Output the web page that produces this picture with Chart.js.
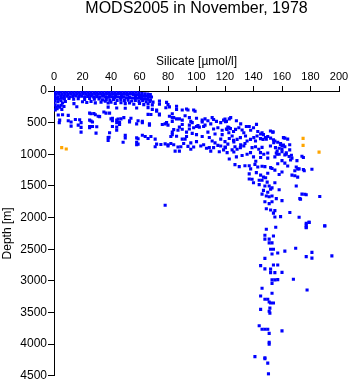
<!DOCTYPE html>
<html><head><meta charset="utf-8">
<script src="https://cdn.jsdelivr.net/npm/chart.js@4.4.1/dist/chart.umd.min.js"></script>
<style>html,body{margin:0;padding:0;background:#fff;overflow:hidden}</style>
</head><body>
<canvas id="c" width="351" height="384"></canvas>
<script>
const chartTitle = "MODS2005 in November, 1978";
const xTitle = "Silicate [µmol/l]";
const yTitle = "Depth [m]";
const xTickValues = [0,20,40,60,80,100,120,140,160,180,200];
const yTickValues = [0,500,1000,1500,2000,2500,3000,3500,4000,4500];

// [silicate, depth]
const blueSurface = [
[0.7,12],[2.8,18],[4.9,10],[7.0,16],[9.1,12],[11.2,20],[13.3,14],[15.4,10],[17.5,18],[19.6,12],[21.7,16],[23.8,10],[25.9,20],[28.0,14],[30.1,18],[32.2,10],[34.3,16],[36.4,12],[38.5,20],[40.6,14],[42.7,10],[44.8,18],[46.9,12],[49.0,16],[51.1,10],[53.2,20],[55.3,14],[57.4,18],[59.5,30],[61.6,40],[63.7,45],[65.8,50],[67.6,55],
[1.2,48],[3.3,42],[5.4,52],[7.5,45],[9.6,55],[11.7,44],[13.8,50],[15.9,46],[18.0,54],[20.1,42],[22.2,50],[24.3,47],[26.4,55],[28.5,44],[30.6,52],[32.7,48],[34.8,56],[36.9,45],[39.0,53],[41.1,49],[43.2,57],[45.3,46],[47.4,54],[49.5,50],[51.6,58],[53.7,48],[55.8,56],[57.9,62],[60.0,70],[62.1,78],[64.2,82],[66.3,88],[68.4,95],
[0.5,85],[2.6,90],[4.7,80],[6.8,88],[8.9,82],[11.0,92],[13.1,85],[15.2,80],[17.3,90],[19.4,84],[21.5,95],[23.6,86],[25.7,80],[27.8,92],[29.9,88],[32.0,96],[34.1,84],[36.2,92],[38.3,98],[40.4,90],[42.5,100],[44.6,94],[46.7,104],[48.8,96],[50.9,106],[53.0,100],[55.1,110],[57.2,104],[59.3,115],[61.4,120],[63.5,125],[65.6,130],[67.7,140],
[1.0,120],[3.1,128],[5.2,115],[7.3,125],[10.5,118],[13.8,130],[17.0,122],[21.5,135],[25.0,118],[28.3,130],[31.6,125],[34.0,140],[36.7,132],[39.2,145],[41.8,135],[44.3,150],[46.9,140],[49.4,152],[52.0,145],[54.5,158],[57.1,148],[59.6,162],[62.2,155],[64.7,170],[67.2,165],[69.5,175],
[0.6,160],[2.7,170],[4.9,155],[6.0,190],[8.0,165],[14.0,200],[20.0,170],[23.0,182],[26.0,165],[29.0,188],[33.0,175],[36.0,160],[38.0,190],[40.0,175],[43.0,195],[47.0,185],[50.0,200],[53.0,190],[56.0,210],[60.0,195],[63.0,215],[66.0,205],[69.0,220],[74,160],[74,210],[79,180],[80,215],
[0.8,220],[2.9,235],[5.1,225],[1.5,260],[4.0,255],[7.0,245],[2.2,280],[5.5,290],[0.9,300],[16,248],[38,255],[44,268],[50,272],[58,268],[66,262],[72,300],[78.5,265],[81,250],[86,240],[86,290],[90,300],[93,285],[94,300],[98,300],[99,320],[69,290],[72,320]
];

const blueIntermediate = [
[25,350],[28,356],[35,332],[39,350],[66,370],[68,372],[74,365],[74,380],
[3,380],[6,375],[10,385],[26,360],[29,375],[31,400],[32,405],[36.5,350],
[4,460],[3.7,500],[10,470],[12,490],[15,450],[18,455],[19,500],[17,540],[25,460],[26,475],[27,490],[25,560],[25,580],
[41,430],[41,470],[44,460],[44,500],[46,500],[46,530],[49,420],[53,490],[53,470],[58,520],[62,480],[62,500],[67,540],[67,520],[76,530],[78,520],[79,500],[83,360],[83,420],[83,480],[80,540],
[40,440],[45,445],[47,440],[54,430],[59,470],
[12,555],[19,575],[27,560],[30,565],[41,560],[44,570],[44,620],
[19,650],[29.5,665],[39,660],[38,737],[38.6,730],[38,780],[50,700],[48.5,810],[50,740],[58,740],[59,755],[58,810],[58,850],[62,700],[64,720],[66,750],[68,720],[71,760],[83,650],[83,690],[82,720],
[59,840],[71,880],[72,840],[75,845],[78,835],[80,870],[80,850],[84,850],[85,950],[88,950],
[81,400],[84,420],[86,440],[88,440],[90,460],[96,480],[97,500],[104,460],[104,490],[111,420],[112,450],[119,460],[120,445],[121,480],[123,440],
[84,610],[87,620],[90,605],[95,600],[98,580],[100,560],[101,545],[102,570],[105,560],[112,600],[115,580],[118,620],[121,600],[122,570],
[86,715],[90,760],[92,760],[93,720],[104,720],[109,735],[111,790],[120,800],[122,840],
[82,830],[87,885],[89,880],[94,875],[98,885],[105,850],[107,905],[109,895],[112,895],[115,860],[117,870],[120,885],[119,930],[125,930],
[120.3,484],[122.7,579],[121.5,606],[123.8,595],[122.7,659],[125,711],[127.4,606],[129.7,580],[132,616],[133.2,659],[130.8,737],[135.5,790],[134.4,711],[128.5,764],[126.2,806],[137.9,764],[140.2,737],[141.4,790],[142.5,711],[144.9,753],[146.7,764],[148.4,737],[142.1,527],[151.9,632],[153.8,648],[139,895],[141.4,880],[143.7,921],[146,890],[133.2,869],[130.8,895],[128.5,921],[126.2,964],[135.5,1000],[137.9,974],[144.9,974],[147.2,1000],[151.9,869],[155.4,895],[156.6,948],[154.2,816],[158.9,843],[160,869],[156.6,1000],[120.3,895],[121.5,974],
[126,640],[124,420],[128,470],[131,520],[135,560],[138,620],[145,680],[149,760],[153.5,650],
[161,737],[162,745],[164,760],[160,920],[165.4,850],[165.4,930],[163,975],[163,1000],[166.6,1016],
[92,390],[95,420],[100,430],[106,440],[108,470],[114,480],[117,500],[110,520],[106,540],[95,540],[90,530],[88,570],[93,650],[97,670],[100,690],[108,650],[113,680],[118,690],[123,750],[126,780],[117,760],[113,820],[100,800],[96,820],[91,830],[103,870],[96,920],[110,950],[116,960],[127,880],[131,850],[134,830],
[137,560],[140,580],[143,640],[146,660],[147,690],[150,720],[152,745],[154,770],[155,790],[157,810],[159,830],[161,855],[162,880],[158,905],[160,960],[162,1010]
];

const blueDeep = [
[170.5,1100],[175,1050],[166,1090],[164,1185],[170,1200],[171,1230],[169,1260],[169,1340],[175.6,1260],[181,1237],[170,1500],[176,1632],[173,1710],[186.5,1668],[165.5,1920],[172,1995],[177,2090],[177,2160],[179,2075],[190,2133],
[123,1075],[127,1164],[130,1195],[134,1180],[137,1180],[141.6,1110],[141,1160],[143,1200],[146,1190],[148,1195],[152,1210],[153,1225],[138,1230],[137,1310],[137,1390],[139,1395],[144,1410],[146,1410],[147,1360],[148.5,1370],[149.6,1440],[148,1500],[151,1500],[153,1530],[152,1550],[146,1630],[149,1660],[151,1670],[153,1660],[156,1700],[148,1750],[151,1780],[153,1750],[160,1733],[149,1860],[152,1880],[155,1890],[154,1930],[155,1990],[159,1985],[172,1230],[175,1240],[167,1330],[171,1360],[174,1630],[177,1640],[172.5,1700],[174,1030],[165,1035],[167,1060],[156,980],[158,1000],[150,980],[78,1806],
[155,1040],[150,1060],[145,1050],[140,1040],[132,1020],[128,1040],[160,1100],[157,1150],[162,1140],[155,1250],[160,1280],[158,1320],[150,1300],[142,1290],[145,1330],[140,1450],[144,1480],[155,1450],[158,1560],[150,1600],[147,1570],
[155.6,2153],[149,2185],[148,2280],[148,2340],[151,2340],[154,2290],[153,2400],[151,2400],[152,2500],[154,2500],[153,2575],[157,2560],[162,2530],[169.6,2485],[148,2645],[177,2120],[177,2150],[179,2075],[190,2130],[177,2617],[181,2550],[181,2640],[195,2605],
[145,2760],[148,2810],[154,2750],[157,2750],[152,2815],[152,2870],[155,2870],[160,2865],[153,2985],[155,2985],[157,2980],[153,3040],[168,2975],[177.6,3144],[146,3117],[153,3196],[145,3240],[148,3290],[150,3290],[151,3335],[152,3350],[154,3350],[151.5,3430],[151,3480],[151.5,3510],[145,3450],[144,3710],[146,3765],[148,3765],[150,3765],[151,3830],[160,3790],[151,3970],[151,4000],[141,4197],[148,4215],[148,4230],[150,4300],[150.5,4470]
];

const orangePoints = [[5.4,895],[8.6,916],[174.8,748],[174.8,860],[186,965]];

const toXY = arr => arr.map(p => ({x: p[0], y: p[1]}));
const FONT = '"Liberation Sans", Arial, Helvetica, sans-serif';
const BLUE = '#0000ff', ORANGE = '#ffa500';

function ds(label, arr, color) {
  return { label, data: toXY(arr), backgroundColor: color, borderColor: color,
    pointBackgroundColor: color, pointBorderColor: color,
    borderWidth: 0, pointBorderWidth: 0, pointStyle: 'rect', pointRadius: 2.2, pointHoverRadius: 2.2 };
}

const titlePlugin = {
  id: 'mainTitle',
  afterDraw(chart) {
    const ctx = chart.ctx;
    ctx.save();
    ctx.fillStyle = '#000';
    ctx.font = '16px ' + FONT;
    ctx.textAlign = 'center';
    ctx.textBaseline = 'alphabetic';
    ctx.fillText(chartTitle, (chart.chartArea.left + chart.chartArea.right) / 2, 13);
    ctx.restore();
  }
};

new Chart(document.getElementById('c'), {
  type: 'scatter',
  data: { datasets: [
    ds('surface', blueSurface, BLUE),
    ds('intermediate', blueIntermediate, BLUE),
    ds('deep', blueDeep, BLUE),
    ds('other', orangePoints, ORANGE)
  ]},
  options: {
    responsive: false, animation: false, devicePixelRatio: 1, events: [],
    layout: { padding: { left: 0, right: 12, top: 0, bottom: 8 } },
    plugins: { legend: { display: false }, tooltip: { enabled: false }, title: { display: false } },
    scales: {
      x: {
        type: 'linear', position: 'top', min: 0, max: 200,
        afterBuildTicks: s => { s.ticks = xTickValues.map(v => ({value: v})); },
        afterFit: s => { s.height = 91; },
        ticks: { color: '#000', font: { family: FONT, size: 11 }, padding: 2, maxRotation: 0, autoSkip: false, callback: v => String(v) },
        grid: { drawOnChartArea: false, drawTicks: true, tickLength: 5, color: '#000', lineWidth: 1 },
        border: { display: true, color: '#000', width: 1 },
        title: { display: true, text: xTitle, color: '#000', font: { family: FONT, size: 12 }, padding: { top: 54, bottom: 0 } }
      },
      y: {
        type: 'linear', position: 'left', reverse: true, min: 0, max: 4500,
        afterBuildTicks: s => { s.ticks = yTickValues.map(v => ({value: v})); },
        afterFit: s => { s.width = 54; },
        ticks: { color: '#000', font: { family: FONT, size: 12 }, padding: 1, autoSkip: false, callback: v => String(v) },
        grid: { drawOnChartArea: false, drawTicks: true, tickLength: 6, color: '#000', lineWidth: 1 },
        border: { display: true, color: '#000', width: 1 },
        title: { display: true, text: yTitle, color: '#000', font: { family: FONT, size: 12 }, padding: { top: 0, bottom: 0 } }
      }
    }
  },
  plugins: [titlePlugin]
});
</script>
</body></html>
